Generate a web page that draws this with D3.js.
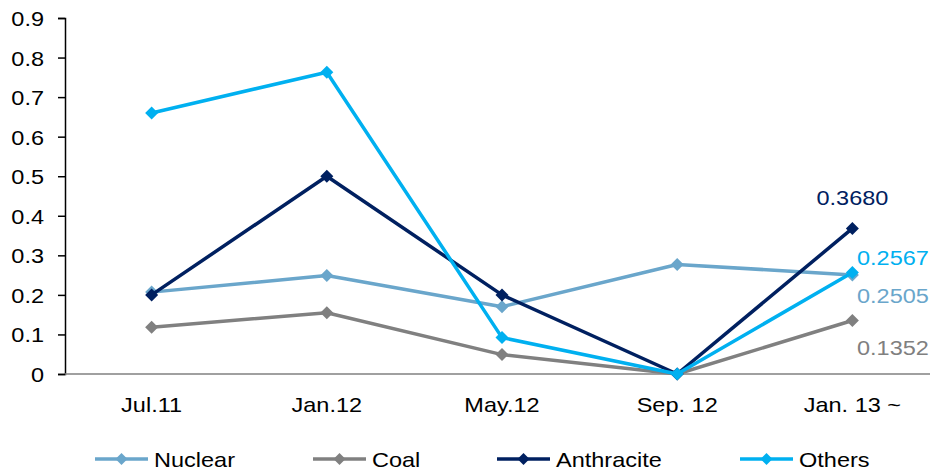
<!DOCTYPE html>
<html>
<head>
<meta charset="utf-8">
<script src="https://cdn.jsdelivr.net/npm/d3@7"></script>
<style>
  html, body { margin: 0; padding: 0; background: #fff; }
  svg { display: block; font-family: Arial, "Liberation Sans", sans-serif; }
</style>
</head>
<body>
<svg id="chart" width="930" height="471"></svg>
<script>
// Period labels along the x axis
const categories = ["Jul.11", "Jan.12", "May.12", "Sep. 12", "Jan. 13 ~"];

// Series values per period
const nuclear    = [0.207, 0.249, 0.170, 0.277, 0.2505];
const coal       = [0.118, 0.155, 0.049, 0.000, 0.1352];
const anthracite = [0.200, 0.500, 0.200, 0.000, 0.3680];
const others     = [0.660, 0.763, 0.092, 0.000, 0.2567];

// Y axis tick values
const yTicks = [0, 0.1, 0.2, 0.3, 0.4, 0.5, 0.6, 0.7, 0.8, 0.9];

// Labels written beside the final period
const endLabels = ["0.2505", "0.1352", "0.3680", "0.2567"];

const seriesNames = ["Nuclear", "Coal", "Anthracite", "Others"];
const seriesColors = ["#6aa6cb", "#808080", "#002060", "#00b0f0"];
const seriesValues = [nuclear, coal, anthracite, others];

const series = seriesNames.map((name, i) => ({
  name, color: seriesColors[i], values: seriesValues[i], label: endLabels[i]
}));

const svg = d3.select("#chart");
const fontSize = 21;
const stretch = 1.12;   // slightly wide lettering

// Place a text element at (px, py) with a horizontal stretch
function placeText(sel, px, py) {
  sel.attr("x", 0).attr("y", 0)
     .attr("transform", (d, i, n) => {
       const X = typeof px === "function" ? px(d, i, n) : px;
       const Y = typeof py === "function" ? py(d, i, n) : py;
       return `translate(${X},${Y}) scale(${stretch},1)`;
     });
  return sel;
}

const x = d3.scalePoint().domain(categories).range([64, 940]).padding(0.5);
const y = d3.scaleLinear().domain([0, 0.9]).range([374, 18]);

// Y axis
const yAxis = svg.append("g")
  .attr("transform", "translate(65,0)")
  .call(d3.axisLeft(y).tickValues(yTicks).tickSize(7)
    .tickFormat(d => d === 0 ? "0" : d3.format(".1f")(d)));
yAxis.select(".domain").attr("stroke", "#000").attr("stroke-width", 1.5);
yAxis.selectAll(".tick line").attr("stroke", "#000").attr("stroke-width", 1.5);
yAxis.selectAll(".tick text").remove();
yAxis.selectAll(".tick").append("text")
  .attr("text-anchor", "end")
  .attr("font-size", fontSize)
  .attr("fill", "#000")
  .call(placeText, -21, 7.5)
  .text(d => d === 0 ? "0" : d3.format(".1f")(d));

// X axis baseline
svg.append("line")
  .attr("x1", 65).attr("x2", 930)
  .attr("y1", y(0)).attr("y2", y(0))
  .attr("stroke", "#808080").attr("stroke-width", 1.5);

// X category labels
svg.append("g").selectAll("text")
  .data(categories)
  .join("text")
  .attr("text-anchor", "middle")
  .attr("font-size", fontSize)
  .attr("fill", "#000")
  .call(placeText, d => x(d), 412)
  .text(d => d);

// Diamond marker shape
const diamond = (cx, cy, r) =>
  `M${cx},${cy - r}L${cx + r},${cy}L${cx},${cy + r}L${cx - r},${cy}Z`;

const line = d3.line()
  .x((d, i) => x(categories[i]))
  .y(d => y(d));

const plot = svg.append("g");
series.forEach(s => {
  const g = plot.append("g");
  g.append("path")
    .attr("d", line(s.values))
    .attr("fill", "none")
    .attr("stroke", s.color)
    .attr("stroke-width", 3.5)
    .attr("stroke-linejoin", "round");
  g.selectAll("path.marker")
    .data(s.values)
    .join("path")
    .attr("class", "marker")
    .attr("d", (d, i) => diamond(x(categories[i]), y(d), 6.5))
    .attr("fill", s.color);
});

// Value labels at the last period
const lastX = x(categories[categories.length - 1]);
const labelPos = {
  "Anthracite": { x: lastX, y: 205, anchor: "middle" },
  "Others":     { x: 857, y: 265, anchor: "start" },
  "Nuclear":    { x: 857, y: 303, anchor: "start" },
  "Coal":       { x: 857, y: 355, anchor: "start" }
};
svg.append("g").selectAll("text")
  .data(series)
  .join("text")
  .attr("text-anchor", d => labelPos[d.name].anchor)
  .attr("font-size", fontSize)
  .attr("fill", d => d.color)
  .call(placeText, d => labelPos[d.name].x, d => labelPos[d.name].y)
  .text(d => d.label);

// Legend
const legendStarts = [95, 313, 497, 740];
const legend = svg.append("g");
series.forEach((s, i) => {
  const lx = legendStarts[i];
  const ly = 459;
  legend.append("line")
    .attr("x1", lx).attr("x2", lx + 53)
    .attr("y1", ly).attr("y2", ly)
    .attr("stroke", s.color).attr("stroke-width", 3.5);
  legend.append("path")
    .attr("d", diamond(lx + 26.5, ly, 6))
    .attr("fill", s.color);
  legend.append("text")
    .attr("font-size", fontSize)
    .attr("fill", "#000")
    .call(placeText, lx + 59, 467)
    .text(s.name);
});
</script>
</body>
</html>
